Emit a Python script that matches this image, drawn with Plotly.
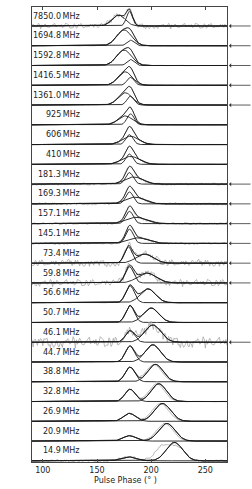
import numpy as np
import plotly.graph_objects as go

# ---------------- data ----------------
LABELS = ["7850.0", "1694.8", "1592.8", "1416.5", "1361.0", "925", "606", "410",
          "181.3", "169.3", "157.1", "145.1", "73.4", "59.8", "56.6", "50.7",
          "46.1", "44.7", "38.8", "32.8", "26.9", "20.9", "14.9"]

# model component 1 (position deg, sigma deg, amplitude)
C1_POS = [170, 175, 175, 176, 176, 176, 181, 181, 180, 180, 180, 180, 179, 180,
          180.5, 180.5, 180.5, 180.5, 180.5, 180.5, 180, 180, 179]
C1_WID = [6.0, 6.8, 6.8, 6.5, 6.5, 6.5, 7.5, 8.0, 3.5, 3.5, 3.5, 3.5, 3.6, 3.8,
          4.0, 4.0, 4.2, 4.3, 4.5, 4.8, 5.5, 6.0, 7.0]
C1_AMP = [0.55, 0.80, 0.78, 0.68, 0.62, 0.45, 0.42, 0.40, 0.58, 0.60, 0.62, 0.72,
          0.82, 0.82, 0.86, 0.85, 0.58, 0.80, 0.74, 0.62, 0.40, 0.27, 0.20]
# model component 2
C2_POS = [180, 181, 181, 181, 181, 181, 180, 180, 184, 185, 186, 188, 194, 196,
          197, 200, 201.5, 201.5, 204, 207, 210.5, 214.5, 221.5]
C2_WID = [2.8, 3.3, 3.3, 3.3, 3.3, 3.3, 3.3, 3.3, 8.0, 8.5, 9.0, 9.0, 8.0, 8.5,
          7.0, 7.0, 7.5, 7.0, 7.0, 7.0, 7.5, 7.5, 7.5]
C2_AMP = [0.72, 0.28, 0.30, 0.40, 0.45, 0.55, 0.50, 0.52, 0.36, 0.34, 0.32, 0.28,
          0.46, 0.50, 0.70, 0.73, 0.87, 0.87, 0.88, 0.90, 0.90, 0.89, 0.93]

# observed profile (grey): shift of component 2, extra component, noise level
D2_SHIFT = [0, 0, 0, 0, 0, 0, 0, 0, 0, 0, 0, 0, 0, 0, 0, 0, 0, 0, -1.5, -2, -2, -2, -9.5]
D2_AMP = [0.72, 0.28, 0.30, 0.40, 0.45, 0.55, 0.50, 0.52, 0.36, 0.34, 0.32, 0.28,
          0.46, 0.50, 0.70, 0.73, 0.87, 0.87, 0.88, 0.90, 0.90, 0.89, 0.80]
D3_POS = [0] * 22 + [226]
D3_WID = [1] * 22 + [6.0]
D3_AMP = [0] * 22 + [0.55]
NOISE_LEVEL = [0.10, 0.008, 0.008, 0.008, 0.008, 0.008, 0.008, 0.008, 0.04, 0.04,
               0.04, 0.035, 0.13, 0.13, 0.008, 0.008, 0.20, 0.008, 0.008, 0.008,
               0.008, 0.008, 0.04]

# hand-typed residual pattern
NOISE = [0.3, -0.8, 0.5, 1.2, -0.4, -1.1, 0.2, 0.9, -0.6, 0.1, 1.5, -0.3, -0.9, 0.7, 0.4,
         -1.4, 0.6, -0.2, 0.8, -0.7, 1.0, -0.5, 0.3, -1.2, 0.9, 0.2, -0.8, 1.3, -0.1, -0.6,
         0.5, -1.0, 0.7, 1.1, -0.4, 0.0, -1.3, 0.8, 0.4, -0.7, 0.6, -0.2, 1.4, -0.9, 0.1,
         -0.5, 0.9, -1.1, 0.3, 0.7, -0.3, -0.8, 1.2, 0.2, -0.6, 0.5, -1.5, 0.4, 0.8, -0.1,
         -0.7, 1.0, -0.4, 0.6, -1.0, 0.3, 1.1, -0.9, 0.0, 0.7, -0.5, -1.2, 0.9, 0.2, -0.3,
         1.3, -0.8, 0.5, -0.2, 0.6, -1.1, 0.4, 0.8, -0.6, 1.0, -0.4, -0.9, 0.3, 1.2, -0.7,
         0.1, 0.5, -1.3, 0.9, -0.1, 0.6, -0.8, 1.4, -0.5, 0.2, 0.7, -1.0, 0.3, -0.4, 1.1,
         -0.6, 0.0, 0.8, -1.2, 0.5, -0.3, 0.9, -0.7, 0.4, 1.0, -0.9, 0.2, -0.5, 0.6, -0.2]

ARROW = [True, True, True, True, True, False, False, False, True, True, True, True,
         True, True, False, False, True, False, False, False, False, False, False]

X_TICKS = [100, 150, 200, 250]

# ---------------- figure ----------------
phase = np.arange(90, 270.01, 1.0)
n = len(LABELS)


def gauss(x, p, w, a):
    return a * np.exp(-0.5 * ((x - p) / w) ** 2)


fig = go.Figure()
annotations = []
black = dict(color="#1a1a1a", width=0.9)
grey = dict(color="#a8a8a8", width=0.8)

for k in range(n):
    base = n - 1 - k
    g1 = gauss(phase, C1_POS[k], C1_WID[k], C1_AMP[k])
    g2 = gauss(phase, C2_POS[k], C2_WID[k], C2_AMP[k])
    d = (gauss(phase, C1_POS[k], C1_WID[k], C1_AMP[k])
         + gauss(phase, C2_POS[k] + D2_SHIFT[k], C2_WID[k], D2_AMP[k])
         + gauss(phase, D3_POS[k], D3_WID[k], D3_AMP[k]))
    idx = [(i * 7 + k * 31) % len(NOISE) for i in range(len(phase))]
    d = d + NOISE_LEVEL[k] * np.array([NOISE[j] for j in idx])
    fig.add_trace(go.Scatter(x=phase, y=d + base, mode="lines", line=grey,
                             hoverinfo="skip", showlegend=False))
    for yy in (g1, g2, g1 + g2):
        fig.add_trace(go.Scatter(x=phase, y=yy + base, mode="lines", line=black,
                                 hoverinfo="skip", showlegend=False))
    annotations.append(dict(x=136, y=base + 0.5, xref="x", yref="y",
                            text=LABELS[k] + "\u2009MHz", showarrow=False,
                            xanchor="right", yanchor="middle",
                            font=dict(size=8, color="#222")))
    if ARROW[k]:
        annotations.append(dict(x=1, y=base, xref="paper", yref="y", text="",
                                showarrow=True, ax=35, ay=0, arrowhead=1,
                                arrowsize=0.9, arrowwidth=0.8, arrowcolor="#333",
                                standoff=2))

annotations.append(dict(x=0.48, y=0, xref="paper", yref="paper", yshift=-18,
                        text="Pulse Phase (° )", showarrow=False,
                        xanchor="center", yanchor="middle",
                        font=dict(size=8, color="#222")))

fig.update_layout(
    width=252, height=489,
    margin=dict(l=32, r=25, t=7, b=27, autoexpand=False),
    paper_bgcolor="white", plot_bgcolor="white",
    font=dict(family="DejaVu Sans", size=8, color="#222"),
    annotations=annotations,
)
fig.update_xaxes(range=[90, 270], tickvals=X_TICKS, ticks="inside", ticklen=3,
                 tickcolor="#444", mirror="allticks", showline=True, linecolor="#444",
                 linewidth=1, showgrid=False, zeroline=False, automargin=False,
                 tickfont=dict(size=8))
fig.update_yaxes(range=[-0.06, n - 1 + 0.96], showticklabels=False, ticks="",
                 showline=True, mirror=True, linecolor="#444", linewidth=1,
                 showgrid=False, zeroline=False, automargin=False)

fig.write_html("out.html", config={"displayModeBar": False},
               post_script="document.body.style.margin='0px';"
                           "document.body.style.overflow='hidden';")
